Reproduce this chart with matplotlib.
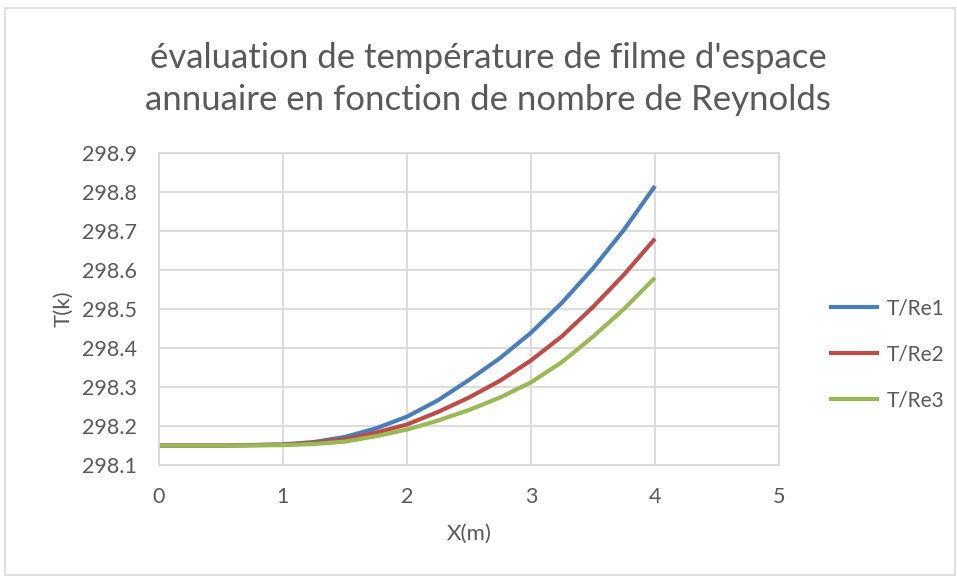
import matplotlib.pyplot as plt
from matplotlib.patches import Rectangle

X = [0, 0.5, 1, 1.25, 1.5, 1.75, 2, 2.25, 2.5, 2.75, 3, 3.25, 3.5, 3.75, 4]
T_RE1 = [298.15, 298.150, 298.153, 298.159, 298.172, 298.194, 298.224, 298.266,
         298.318, 298.374, 298.439, 298.516, 298.604, 298.703, 298.815]
T_RE2 = [298.15, 298.150, 298.152, 298.157, 298.166, 298.183, 298.204, 298.236,
         298.273, 298.316, 298.368, 298.430, 298.505, 298.588, 298.680]
T_RE3 = [298.15, 298.150, 298.151, 298.154, 298.160, 298.174, 298.191, 298.214,
         298.241, 298.273, 298.312, 298.364, 298.429, 298.500, 298.580]

SERIES = ["T/Re1", "T/Re2", "T/Re3"]
COLORS = ["#4a7ebb", "#be4b48", "#98b954"]

TITLE = "évaluation de température de filme d'espace\nannuaire en fonction de nombre de Reynolds"

plt.rcParams["font.family"] = ["Lato", "DejaVu Sans"]
TXT = "#595959"
GRID = "#d9d9d9"

fig = plt.figure(figsize=(9.57, 5.77), dpi=100)
ax = fig.add_axes([0.166, 0.194, 0.648, 0.541])

for ys, name, c in zip([T_RE1, T_RE2, T_RE3], SERIES, COLORS):
    ax.plot(X, ys, color=c, linewidth=3, label=name, solid_capstyle="butt")

ax.set_xlim(0, 5)
ax.set_ylim(298.1, 298.9)
ax.set_xticks(range(0, 6))
ax.set_yticks([298.1 + 0.1 * i for i in range(9)])
ax.set_yticklabels([f"{298.1 + 0.1 * i:.1f}" for i in range(9)])
ax.grid(True, color=GRID, linewidth=1.3)
ax.set_axisbelow(True)
for s in ax.spines.values():
    s.set_color(GRID)
    s.set_linewidth(1.3)
ax.tick_params(length=0, labelsize=15.5, colors=TXT, pad=16)
ax.tick_params(axis="x", pad=16)

ax.set_xlabel("X(m)", fontsize=16, color=TXT, labelpad=12)
ax.set_ylabel("T(k)", fontsize=16, color=TXT, labelpad=6)

fig.text(0.51, 0.863, TITLE, ha="center", va="center", fontsize=25,
         color=TXT, linespacing=1.35)

ax.legend(loc="center left", bbox_to_anchor=(1.05, 0.355), frameon=False,
          fontsize=15, labelcolor=TXT, handlelength=2.4, handletextpad=0.4,
          labelspacing=1.25)

fig.patches.append(Rectangle((0.005, 0.003), 0.993, 0.983, transform=fig.transFigure,
                             fill=False, edgecolor=GRID, linewidth=1.2))

fig.savefig("out.png", dpi=100)
